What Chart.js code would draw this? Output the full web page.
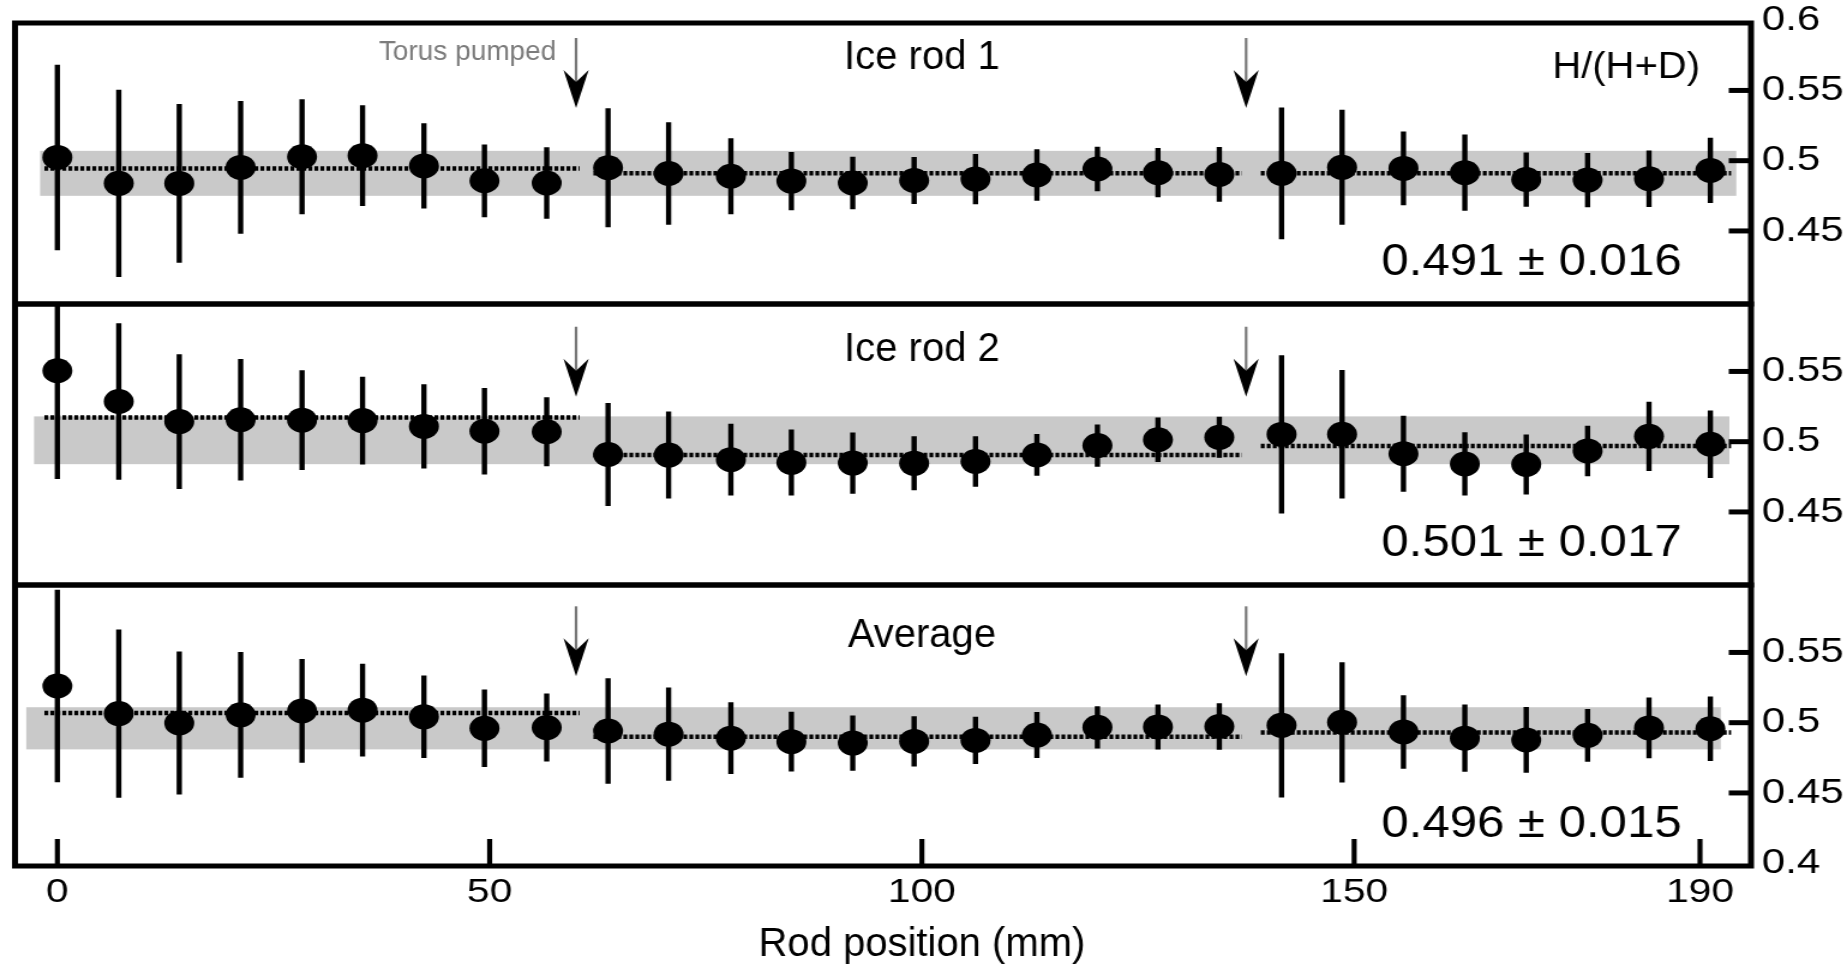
<!DOCTYPE html>
<html>
<head>
<meta charset="utf-8">
<title>H/(H+D) along the ice rods</title>
<script src="https://cdn.jsdelivr.net/npm/chart.js@4.4.1/dist/chart.umd.min.js"></script>
<style>
  html, body { margin: 0; padding: 0; background: #fff; }
  canvas { display: block; }
</style>
</head>
<body>
<!-- drawn on a narrower canvas and shown 1.2x wider, like the printed figure -->
<canvas id="rods" width="1539" height="970" style="width:1847px;height:970px"></canvas>
<script>
// rod position (mm) of every sample
const rodPosition = [0, 7.1, 14.1, 21.2, 28.3, 35.3, 42.4, 49.4, 56.6, 63.7, 70.7, 77.9, 84.9, 92,
  99.1, 106.2, 113.3, 120.3, 127.3, 134.4, 141.6, 148.6, 155.7, 162.8, 169.9, 177, 184.1, 191.2];

// H/(H+D) per sample and its error
const rod1 = [0.5023, 0.4839, 0.4838, 0.4952, 0.5028, 0.5036, 0.4963, 0.4857, 0.4841, 0.495,
  0.4909, 0.4889, 0.4855, 0.4841, 0.4859, 0.4869, 0.4898, 0.4941, 0.4915, 0.4902,
  0.491, 0.4953, 0.4945, 0.4915, 0.4866, 0.4862, 0.4872, 0.4931];
const rod1Err = [0.066, 0.0666, 0.0565, 0.0472, 0.041, 0.0358, 0.0304, 0.0259, 0.0254, 0.0424,
  0.0365, 0.027, 0.0207, 0.0187, 0.0168, 0.0179, 0.0183, 0.0159, 0.0175, 0.0195,
  0.0469, 0.0409, 0.0263, 0.0272, 0.0193, 0.0193, 0.0201, 0.0233];

const rod2 = [0.5505, 0.5286, 0.5143, 0.5156, 0.5153, 0.515, 0.5109, 0.5075, 0.5071, 0.4909,
  0.4905, 0.4872, 0.4852, 0.4848, 0.4846, 0.4859, 0.4906, 0.4972, 0.5014, 0.5031,
  0.5052, 0.5053, 0.4914, 0.4842, 0.4838, 0.4934, 0.5038, 0.4982];
const rod2Err = [0.077, 0.0557, 0.048, 0.0432, 0.0355, 0.0312, 0.0299, 0.0308, 0.0245, 0.0367,
  0.031, 0.0255, 0.0235, 0.0218, 0.0192, 0.0179, 0.0148, 0.0151, 0.0158, 0.0146,
  0.0563, 0.0458, 0.027, 0.0225, 0.0213, 0.018, 0.0246, 0.024];

const average = [0.5261, 0.5065, 0.4998, 0.5056, 0.5084, 0.5089, 0.5042, 0.496, 0.4965, 0.4941,
  0.4918, 0.489, 0.4865, 0.4855, 0.4867, 0.4874, 0.4912, 0.4967, 0.497, 0.4973,
  0.4981, 0.5003, 0.4934, 0.489, 0.4877, 0.491, 0.4963, 0.4957];
const averageErr = [0.0685, 0.0599, 0.0509, 0.0448, 0.037, 0.033, 0.0293, 0.0276, 0.0242, 0.0376,
  0.0332, 0.0255, 0.0212, 0.0197, 0.0178, 0.0168, 0.0164, 0.015, 0.016, 0.0166,
  0.0513, 0.0428, 0.0261, 0.0239, 0.0234, 0.0188, 0.0216, 0.0229];

const panelTitles = ["Ice rod 1", "Ice rod 2", "Average"];

// overall mean and spread (grey band)
const bandMean = [0.491, 0.501, 0.496];
const bandSd = [0.016, 0.017, 0.015];
const bandFrom = [-2, -2.7, -3.6];
const bandTo = [194.2, 193.4, 192.4];

// means of the three sections between pump-downs (dotted)
const segStart = [-1.5, 62, 139.2];
const segEnd = [60.4, 137, 193.6];
const rod1Seg = [0.4945, 0.491, 0.491];
const rod2Seg = [0.5173, 0.4905, 0.497];
const averageSeg = [0.5069, 0.49, 0.493];

// torus pumped at these positions
const pumpedAt = [60, 137.5];
const arrowTip = [0.5375, 0.532, 0.533];

const xTicks = [0, 50, 100, 150, 190];
const yTicks = [[0.45, 0.5, 0.55, 0.6], [0.45, 0.5, 0.55], [0.4, 0.45, 0.5, 0.55]];

const squeeze = 1539 / 1847;
const fontFamily = "'Liberation Sans', Arial, Helvetica, sans-serif";
Chart.defaults.font.family = fontFamily;

const panelIds = ["y1", "y2", "y3"];
const series = [rod1, rod2, average];
const seriesErr = [rod1Err, rod2Err, averageErr];
const segMeans = [rod1Seg, rod2Seg, averageSeg];

function text(ctx, str, x, y, size, align, color, sx) {
  ctx.save();
  ctx.translate(x, y);
  ctx.scale(sx, 1);
  ctx.font = `${size}px ${fontFamily}`;
  ctx.fillStyle = color;
  ctx.textAlign = align;
  ctx.textBaseline = "alphabetic";
  ctx.fillText(str, 0, 0);
  ctx.restore();
}

const panelDecor = {
  id: "panelDecor",
  beforeDatasetsDraw(chart) {
    const { ctx, chartArea, scales } = chart;
    const x = scales.x;
    panelIds.forEach((id, p) => {
      const y = scales[id];
      ctx.save();
      ctx.beginPath();
      ctx.rect(chartArea.left, y.top, chartArea.width, y.height);
      ctx.clip();

      // mean +- sd band
      const top = y.getPixelForValue(bandMean[p] + bandSd[p]);
      const bottom = y.getPixelForValue(bandMean[p] - bandSd[p]);
      const left = x.getPixelForValue(bandFrom[p]);
      const right = x.getPixelForValue(bandTo[p]);
      ctx.fillStyle = "#c9c9c9";
      ctx.fillRect(left, top, right - left, bottom - top);

      // error bars
      ctx.strokeStyle = "#000";
      ctx.lineWidth = 4.4;
      series[p].forEach((v, i) => {
        const px = x.getPixelForValue(rodPosition[i]);
        ctx.beginPath();
        ctx.moveTo(px, y.getPixelForValue(v + seriesErr[p][i]));
        ctx.lineTo(px, y.getPixelForValue(v - seriesErr[p][i]));
        ctx.stroke();
      });
      ctx.restore();
    });
  },
  afterDraw(chart) {
    const { ctx, chartArea, scales } = chart;
    const x = scales.x;
    const titleX = x.getPixelForValue(100);

    panelIds.forEach((id, p) => {
      const y = scales[id];

      // frame
      ctx.strokeStyle = "#000";
      ctx.lineWidth = 5;
      ctx.strokeRect(chartArea.left, y.top, chartArea.width, y.height);

      // inward tick marks on the right axis
      ctx.lineWidth = 5;
      yTicks[p].forEach((v) => {
        const py = y.getPixelForValue(v);
        if (py <= y.top + 3 || py >= y.bottom - 3) return;
        ctx.beginPath();
        ctx.moveTo(chartArea.right - 18.5, py);
        ctx.lineTo(chartArea.right, py);
        ctx.stroke();
      });

      // pump-down arrows
      pumpedAt.forEach((a) => {
        const px = x.getPixelForValue(a);
        const tip = y.getPixelForValue(arrowTip[p]);
        ctx.strokeStyle = "#777";
        ctx.lineWidth = 2.2;
        ctx.beginPath();
        ctx.moveTo(px, tip - 70);
        ctx.lineTo(px, tip - 26);
        ctx.stroke();
        ctx.fillStyle = "#000";
        ctx.beginPath();
        ctx.moveTo(px, tip);
        ctx.lineTo(px - 10.5, tip - 38);
        ctx.lineTo(px, tip - 26);
        ctx.lineTo(px + 10.5, tip - 38);
        ctx.closePath();
        ctx.fill();
      });

      // titles and summary values
      const titleBase = [69, 361, 647];
      text(ctx, panelTitles[p], titleX, titleBase[p], 40, "center", "#000", squeeze);
      const summary = `${bandMean[p].toFixed(3)} \u00b1 ${bandSd[p].toFixed(3)}`;
      text(ctx, summary, chartArea.right - 308, y.bottom - 29, 45, "left", "#000", 0.91);
    });

    // x-axis tick marks
    ctx.strokeStyle = "#000";
    ctx.lineWidth = 4.2;
    xTicks.forEach((v) => {
      const px = x.getPixelForValue(v);
      ctx.beginPath();
      ctx.moveTo(px, chartArea.bottom);
      ctx.lineTo(px, chartArea.bottom - 27);
      ctx.stroke();
    });

    text(ctx, "H/(H+D)", chartArea.right - 42.5, 78, 37, "right", "#000", 0.9);
    text(ctx, "Torus pumped", x.getPixelForValue(pumpedAt[0]) - 16.5, 60, 28, "right", "#7c7c7c", squeeze);
    text(ctx, "Rod position (mm)", titleX, 956, 40, "center", "#000", squeeze);
  },
};

// scatter points and dotted section means for each panel
const datasets = [];
panelIds.forEach((id, p) => {
  datasets.push({
    type: "scatter",
    data: rodPosition.map((pos, i) => ({ x: pos, y: series[p][i] })),
    xAxisID: "x",
    yAxisID: id,
    pointRadius: 12.5,
    pointHoverRadius: 12.5,
    pointBackgroundColor: "#000",
    pointBorderWidth: 0,
    order: 0,
  });
  const seg = [];
  segStart.forEach((s, k) => {
    if (k > 0) seg.push({ x: (segEnd[k - 1] + s) / 2, y: null });
    seg.push({ x: s, y: segMeans[p][k] });
    seg.push({ x: segEnd[k], y: segMeans[p][k] });
  });
  datasets.push({
    type: "line",
    data: seg,
    xAxisID: "x",
    yAxisID: id,
    borderColor: "#000",
    borderWidth: 4.5,
    borderDash: [3.2, 1.8],
    pointRadius: 0,
    fill: false,
    spanGaps: false,
    order: 1,
  });
});

function yScale(p) {
  return {
    type: "linear",
    position: "right",
    stack: "rods",
    stackWeight: 1,
    min: 0.398,
    max: 0.598,
    grid: { display: false, drawTicks: false },
    border: { display: false },
    afterBuildTicks: (s) => {
      s.ticks = yTicks[p].map((v) => ({ value: v }));
    },
    afterFit: (s) => {
      s.width = 80;
      s.paddingTop = 0;
      s.paddingBottom = 0;
    },
    ticks: {
      font: { size: 35 },
      color: "#000",
      padding: 9,
      autoSkip: false,
      callback: (v) => String(v),
    },
  };
}

new Chart(document.getElementById("rods"), {
  data: { datasets },
  options: {
    responsive: false,
    devicePixelRatio: 1,
    animation: false,
    events: [],
    layout: { padding: { left: 10, top: 23, right: 0, bottom: 0 } },
    plugins: {
      legend: { display: false },
      tooltip: { enabled: false },
    },
    scales: {
      x: {
        type: "linear",
        position: "bottom",
        min: -4.9,
        max: 195.9,
        grid: { display: false, drawTicks: false },
        border: { display: false },
        afterBuildTicks: (s) => {
          s.ticks = xTicks.map((v) => ({ value: v }));
        },
        afterFit: (s) => {
          s.height = 104;
          s.paddingLeft = 0;
          s.paddingRight = 0;
        },
        ticks: {
          font: { size: 34 },
          color: "#000",
          padding: 6,
          autoSkip: false,
          maxRotation: 0,
        },
      },
      y1: yScale(0),
      y2: yScale(1),
      y3: yScale(2),
    },
  },
  plugins: [panelDecor],
});
</script>
</body>
</html>
